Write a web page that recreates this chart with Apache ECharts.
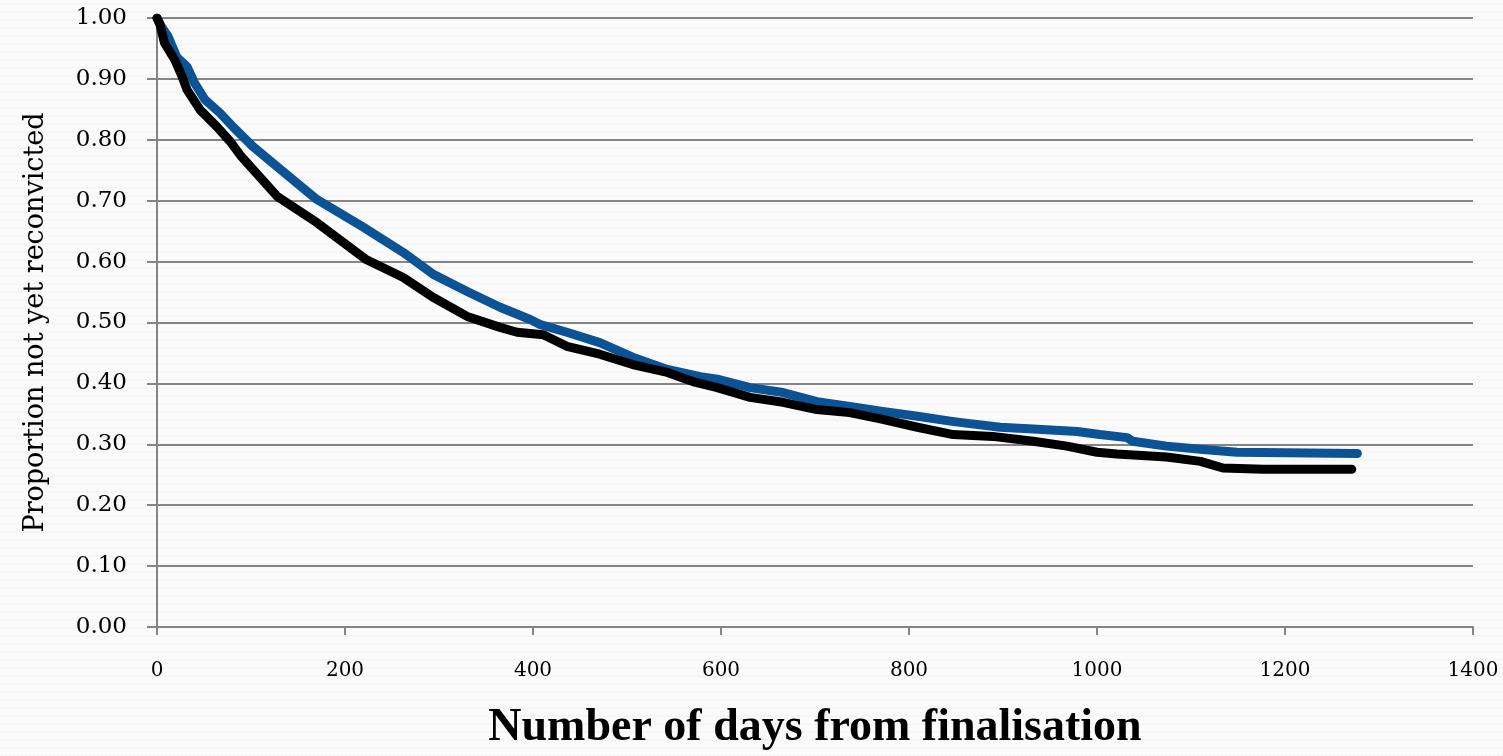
<!DOCTYPE html>
<html>
<head>
<meta charset="utf-8">
<script src="https://cdn.jsdelivr.net/npm/echarts@6/dist/echarts.min.js"></script>
<style>
html,body{margin:0;padding:0;background:#fbfbfb;}
#chart{width:1503px;height:756px;}
</style>
</head>
<body>
<div id="chart"></div>
<script>
// ---- data ----
const daysBlue = [0, 5, 12, 21, 32, 40, 51, 67, 81, 102, 134, 170, 219, 262, 294, 330, 365, 397, 407, 436, 471, 506, 543, 578, 596, 631, 666, 702, 737, 772, 809, 844, 854, 897, 932, 979, 1003, 1032, 1038, 1074, 1110, 1149, 1277];
const propBlue = [1.000, 0.985, 0.969, 0.936, 0.920, 0.893, 0.866, 0.844, 0.821, 0.789, 0.748, 0.702, 0.657, 0.615, 0.579, 0.551, 0.525, 0.505, 0.497, 0.484, 0.467, 0.443, 0.423, 0.411, 0.407, 0.393, 0.385, 0.370, 0.362, 0.354, 0.346, 0.338, 0.336, 0.328, 0.325, 0.321, 0.316, 0.311, 0.305, 0.297, 0.292, 0.287, 0.285];
const daysBlack = [0, 3, 8, 19, 27, 32, 46, 64, 78, 90, 128, 170, 223, 262, 294, 330, 365, 383, 411, 436, 471, 506, 543, 570, 596, 631, 666, 702, 737, 772, 809, 847, 889, 932, 968, 1000, 1021, 1074, 1110, 1134, 1177, 1271];
const propBlack = [1.000, 0.990, 0.959, 0.931, 0.903, 0.882, 0.849, 0.821, 0.797, 0.772, 0.707, 0.664, 0.603, 0.574, 0.541, 0.510, 0.492, 0.484, 0.480, 0.461, 0.448, 0.431, 0.418, 0.403, 0.393, 0.377, 0.369, 0.357, 0.352, 0.341, 0.328, 0.316, 0.313, 0.305, 0.297, 0.287, 0.284, 0.279, 0.272, 0.261, 0.259, 0.259];
const xAxisTitle = 'Number of days from finalisation';
const yAxisTitle = 'Proportion not yet reconvicted';

// subtle zigzag background texture
const pc = document.createElement('canvas');
pc.width = 8; pc.height = 8;
const g = pc.getContext('2d');
g.fillStyle = '#fbfbfb'; g.fillRect(0,0,8,8);
g.strokeStyle = '#f1f1f1'; g.lineWidth = 1;
g.beginPath(); g.moveTo(0,5); g.lineTo(2,3); g.lineTo(4,5); g.lineTo(6,3); g.lineTo(8,5); g.stroke();

const pair = (xs, ys) => xs.map((x, i) => [x, ys[i]]);
const gridGrey = '#858585';
const font = 'DejaVu Serif';

const chart = echarts.init(document.getElementById('chart'));
chart.setOption({
  backgroundColor: {image: pc, repeat: 'repeat'},
  animation: false,
  grid: {left: 157, right: 30, top: 18, bottom: 128, containLabel: false},
  xAxis: {
    type: 'value', min: 0, max: 1400, interval: 200,
    name: xAxisTitle, nameLocation: 'middle', nameGap: 78,
    nameTextStyle: {fontFamily: 'Liberation Serif', fontWeight: 'bold', fontSize: 46, color: '#000'},
    axisLine: {show: true, lineStyle: {color: gridGrey, width: 2}},
    axisTick: {show: true, length: 8, lineStyle: {color: gridGrey, width: 2}},
    axisLabel: {margin: 34, fontFamily: font, fontSize: 20, color: '#000', formatter: v => String(v)},
    splitLine: {show: false}
  },
  yAxis: {
    type: 'value', min: 0, max: 1, interval: 0.1,
    name: yAxisTitle, nameLocation: 'middle', nameGap: 108, nameRotate: 90,
    nameTextStyle: {fontFamily: font, fontSize: 27, color: '#000'},
    axisLine: {show: true, lineStyle: {color: gridGrey, width: 2}},
    axisTick: {show: true, inside: false, length: 10, lineStyle: {color: gridGrey, width: 2}},
    axisLabel: {margin: 30, fontFamily: font, fontSize: 23, color: '#000', formatter: v => v.toFixed(2)},
    splitLine: {show: true, lineStyle: {color: gridGrey, width: 2}}
  },
  series: [
    {type: 'line', data: pair(daysBlue, propBlue), showSymbol: false, symbol: 'none',
     lineStyle: {color: '#0c5396', width: 9, cap: 'round', join: 'round'}},
    {type: 'line', data: pair(daysBlack, propBlack), showSymbol: false, symbol: 'none',
     lineStyle: {color: '#000000', width: 9, cap: 'round', join: 'round'}}
  ]
});
</script>
</body>
</html>
